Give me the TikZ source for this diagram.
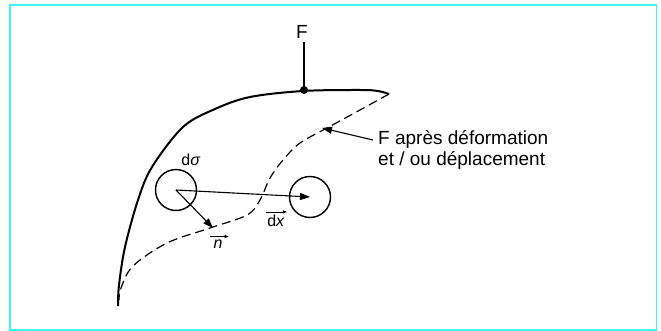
\documentclass[tikz,border=0pt]{standalone}
\usepackage{fontspec}
\setmainfont{Liberation Sans}
\usetikzlibrary{arrows.meta}
\definecolor{framecyan}{RGB}{60,245,250}
\tikzset{
  lbl/.style={inner sep=0pt, font=\fontsize{19}{21}\selectfont},
  sml/.style={inner sep=0pt, font=\fontsize{16}{18}\selectfont},
  vec/.style={line width=1.1pt, -{Triangle[length=10pt,width=7pt]}},
  ovec/.style={line width=0.7pt, -{Triangle[length=4pt,width=3pt]}},
  circ/.style={draw, circle, line width=1.4pt, minimum size=41pt, inner sep=0pt},
}
\begin{document}
\begin{tikzpicture}[x=1pt,y=-1pt]
\useasboundingbox (0,0) rectangle (661,331);
\draw[framecyan, line width=1.5pt] (10,5) rectangle (656.5,330);
% original surface
\draw[line width=2pt, line join=round] plot[smooth, tension=0.55] coordinates
 {(118,306) (119,285) (125,247) (138,200) (152,167) (183,127) (215,109) (250,97) (303,91) (360,90) (378,91) (389,94)};
% deformed surface
\draw[line width=1.2pt, dash pattern=on 9pt off 5pt] plot[smooth, tension=0.55] coordinates
 {(389,94) (360,110) (327,128) (300,143) (283,160) (270,178) (260,200) (247,215) (210,228) (167,243) (133,266) (121,288) (119,300)};
% point F
\coordinate (Fpt) at (304,90);
\fill (Fpt) circle (4pt);
\node[lbl] (F) at (302,32) {F};
\draw[line width=1.1pt] (304,42) -- (Fpt);
% circles
\node[circ] (c1) at (176,190) {};
\node[circ] (c2) at (310,197) {};
\coordinate (n) at (213,228);
\draw[vec] (c1.center) -- (c2.center);
\draw[vec] (c1.center) -- (n);
\node[sml] (dsig) at (191,160) {d\textit{σ}};
\node[sml] (dx) at (276,221) {d\textit{x}};
\draw[ovec] ([xshift=-1pt,yshift=3pt]dx.north west) -- ([xshift=2pt,yshift=3pt]dx.north east);
\node[sml] (nl) at (218,244) {\textit{n}};
\draw[ovec] ([xshift=-3pt,yshift=3pt]nl.north west) -- ([xshift=6pt,yshift=3pt]nl.north east);
% leader
\node[lbl, anchor=north west, align=left] (txt) at (378,130) {F après déformation\\et / ou déplacement};
\coordinate (lt) at (322,128);
\draw[line width=1.1pt, -{Triangle[length=10pt,width=7pt]}] (373,140) -- (lt);
\end{tikzpicture}
\end{document}
